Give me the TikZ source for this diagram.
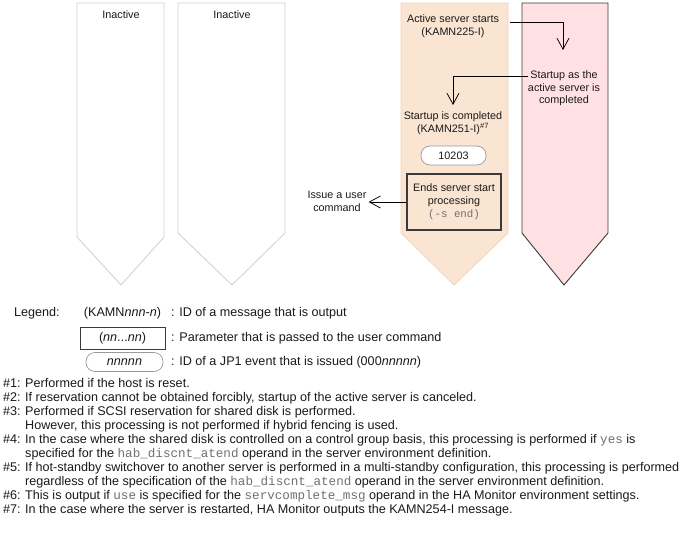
\documentclass[tikz,border=0pt]{standalone}
\usepackage{fontspec}
\setmainfont{Liberation Sans}
\setmonofont{Liberation Mono}
\usetikzlibrary{arrows.meta}
\definecolor{peach}{HTML}{F9E5D2}
\definecolor{peachline}{HTML}{F2D6BA}
\definecolor{pinkf}{HTML}{FFE1E4}
\definecolor{pinkline}{HTML}{3A3A3A}
\definecolor{grayline}{HTML}{CFCFCF}
\definecolor{txt}{HTML}{1A1A1A}
\definecolor{codegray}{HTML}{707070}
\definecolor{pillline}{HTML}{9A9A9A}
\newcommand{\cde}[1]{{\ttfamily\color{codegray}#1}}
\begin{document}
\begin{tikzpicture}[x=1pt,y=-1pt,
  every node/.style={font=\fontsize{10.8}{13}\selectfont, text=txt, inner sep=2pt},
  lbl/.style={align=center},
  big/.style={font=\fontsize{12.6}{14}\selectfont},
  pill/.style={draw=pillline, fill=white, rounded corners=9pt, minimum height=19pt, line width=0.7pt},
  cmdbox/.style={draw=pinkline, line width=1.1pt, minimum height=22pt},
  arr/.style={draw=black, line width=0.75pt, -{Straight Barb[length=11pt,width=12pt,line width=0.75pt]}},
  note/.style={anchor=base west, inner sep=0pt, big},
  leg/.style={anchor=west, inner sep=0pt, big}]
\useasboundingbox (0,0) rectangle (680,541);
\fill[white] (0,0) rectangle (680,541);
% columns
\draw[grayline, line width=0.8pt, fill=white] (77,3) -- (164,3) -- (164,237) -- (121,285) -- (77,237) -- cycle;
\draw[grayline, line width=0.8pt, fill=white] (178,3) -- (285,3) -- (285,233) -- (232,285) -- (178,233) -- cycle;
\draw[peachline, line width=0.8pt, fill=peach] (401,3) -- (508,3) -- (508,233) -- (454,285) -- (401,233) -- cycle;
\draw[pinkline, line width=0.9pt, fill=pinkf] (522,3) -- (608,3) -- (608,233) -- (564,285) -- (522,233) -- cycle;
% texts
\node (in1) at (121,15) {Inactive};
\node (in2) at (232,15) {Inactive};
\node[lbl] (as) at (453,26.5) {Active server starts\\(KAMN225-I)};
\node[lbl, font=\fontsize{10.8}{12.5}\selectfont] (sc) at (564,88.5) {Startup as the\\active server is\\completed};
\node[lbl] (ic) at (453,123.5) {Startup is completed\\(KAMN251-I)\textsuperscript{\#7}};
\node[pill, minimum width=65pt] (ev) at (453.5,155.5) {10203};
\node[cmdbox, minimum width=94pt, minimum height=56pt, align=center] (bx) at (454,202) {Ends server start\\processing\\\cde{(-s end)}};
\node[lbl] (uc) at (337,201.5) {Issue a user\\command};
\coordinate (e1) at (563,50);
\coordinate (e2) at (453,105);
\draw[arr] ([shift={(9pt,4.5pt)}]as.east) -| (e1);
\draw[arr] ([shift={(2pt,12.5pt)}]sc.west) -| (e2);
\draw[arr] (bx.west) -- (bx.west -| uc.east);
% legend
\node[leg] (lg) at (14,313) {Legend:};
\node[big] (lk) at (122.5,313) {(KAMN\textit{nnn}-\textit{n})};
\node[leg] (lkt) at (171,313) {: ID of a message that is output};
\node[cmdbox, big, line width=0.9pt, minimum width=85pt, fill=white] (lb) at (122.5,338) {(\textit{nn}...\textit{nn})};
\node[leg] (lbt) at (171,338) {: Parameter that is passed to the user command};
\node[pill, big, minimum width=77pt] (lp) at (124.5,362) {\textit{nnnnn}};
\node[leg] (lpt) at (171,362) {: ID of a JP1 event that is issued (000\textit{nnnnn})};
% notes
\node[note] (h1) at (3,387.5) {\#1:};
\node[note] (t1) at (25,387.5) {Performed if the host is reset.};
\node[note] (h2) at (3,401.5) {\#2:};
\node[note] (t2) at (25,401.5) {If reservation cannot be obtained forcibly, startup of the active server is canceled.};
\node[note] (h3) at (3,415.5) {\#3:};
\node[note] (t3) at (25,415.5) {Performed if SCSI reservation for shared disk is performed.};
\node[note] (t3b) at (25,429.5) {However, this processing is not performed if hybrid fencing is used.};
\node[note] (h4) at (3,443.5) {\#4:};
\node[note] (t4) at (25,443.5) {In the case where the shared disk is controlled on a control group basis, this processing is performed if \cde{yes} is};
\node[note] (t4b) at (25,457.5) {specified for the \cde{hab\_discnt\_atend} operand in the server environment definition.};
\node[note] (h5) at (3,471.5) {\#5:};
\node[note] (t5) at (25,471.5) {If hot-standby switchover to another server is performed in a multi-standby configuration, this processing is performed};
\node[note] (t5b) at (25,485.5) {regardless of the specification of the \cde{hab\_discnt\_atend} operand in the server environment definition.};
\node[note] (h6) at (3,499.5) {\#6:};
\node[note] (t6) at (25,499.5) {This is output if \cde{use} is specified for the \cde{servcomplete\_msg} operand in the HA Monitor environment settings.};
\node[note] (h7) at (3,513.5) {\#7:};
\node[note] (t7) at (25,513.5) {In the case where the server is restarted, HA Monitor outputs the KAMN254-I message.};
\end{tikzpicture}
\end{document}
